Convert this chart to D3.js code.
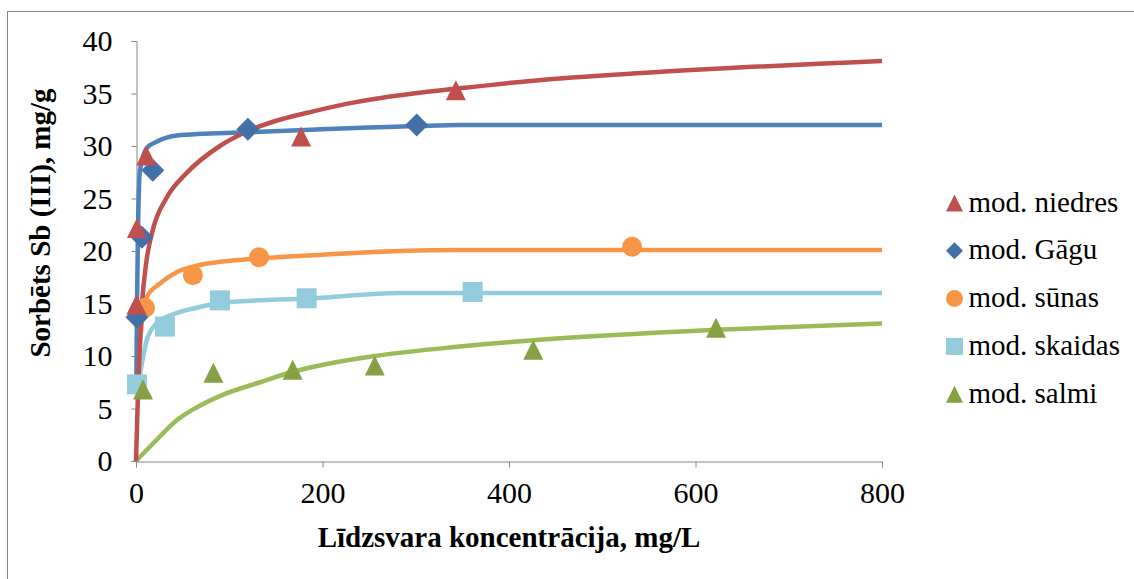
<!DOCTYPE html>
<html>
<head>
<meta charset="utf-8">
<script src="https://cdn.jsdelivr.net/npm/d3@7"></script>
<style>
  body { margin: 0; background: #fff; }
</style>
</head>
<body>
<div class="chart"></div>
<script>
// mērījumu punkti (marķieri)
var niedresX = [0.5, 1, 11, 177, 343];
var niedresY = [14.9, 22.2, 29.1, 30.9, 35.3];
var gaguX = [1, 6.4, 18, 120, 301];
var gaguY = [13.7, 21.3, 27.7, 31.6, 32.0];
var sunasX = [9.7, 61, 132, 532];
var sunasY = [14.6, 17.7, 19.4, 20.4];
var skaidasX = [1, 31, 90, 183, 361];
var skaidasY = [7.3, 12.8, 15.3, 15.5, 16.1];
var salmiX = [7.5, 83, 168, 256, 426, 622];
var salmiY = [6.8, 8.4, 8.7, 9.1, 10.6, 12.7];

// modeļa līknes
var niedresModX = [0, 2, 4, 6, 11, 18, 33, 54, 90, 122, 154, 190, 237, 297, 347, 423, 551, 800];
var niedresModY = [0, 6.1, 10.9, 14.4, 18.9, 22, 25.1, 27.4, 30, 31.5, 32.5, 33.3, 34.2, 35.0, 35.5, 36.2, 37.0, 38.1];
var gaguModX = [0.3, 1, 2, 4.3, 11.5, 22, 44, 120, 301, 347, 800];
var gaguModY = [6.5, 14, 21.3, 27.7, 29.8, 30.4, 31.0, 31.3, 31.9, 32.0, 32.0];
var sunasModX = [2, 5, 11.5, 25.7, 44, 65, 93, 133, 190, 283, 347, 800];
var sunasModY = [7, 12, 15.6, 16.9, 18.0, 18.6, 19.0, 19.3, 19.6, 20.0, 20.1, 20.1];
var skaidasModX = [2, 6.4, 11.5, 22, 44, 65, 93, 190, 283, 347, 800];
var skaidasModY = [7.0, 9.3, 11.5, 13.1, 14.1, 14.6, 15.1, 15.5, 16.0, 16.0, 16.0];
var salmiModX = [0, 22, 44, 65, 93, 133, 168, 197, 256, 347, 426, 622, 800];
var salmiModY = [0, 2.0, 3.9, 5.1, 6.3, 7.5, 8.5, 9.1, 10.0, 10.9, 11.5, 12.5, 13.1];

var xTicks = [0, 200, 400, 600, 800];
var yTicks = [0, 5, 10, 15, 20, 25, 30, 35, 40];
var names = ["mod. niedres", "mod. Gāgu", "mod. sūnas", "mod. skaidas", "mod. salmi"];

var width = 1134, height = 579;
var serif = "'Liberation Serif'";

// Excel stila marķieri (izmērs = platums^2)
var tri = {draw: function(ctx, size){
    var r = Math.sqrt(size) / 2;
    ctx.moveTo(0, -r); ctx.lineTo(r, r); ctx.lineTo(-r, r); ctx.closePath();
}};
var dia = {draw: function(ctx, size){
    var r = Math.sqrt(size) / 2;
    ctx.moveTo(0, -r); ctx.lineTo(r, 0); ctx.lineTo(0, r); ctx.lineTo(-r, 0); ctx.closePath();
}};
var sq = {draw: function(ctx, size){
    var r = Math.sqrt(size) / 2;
    ctx.rect(-r, -r, 2 * r, 2 * r);
}};
var circ = {draw: function(ctx, size){
    var r = Math.sqrt(size) / 2;
    ctx.moveTo(r, 0); ctx.arc(0, 0, r, 0, 2 * Math.PI);
}};

var svg = d3.select(".chart").append("svg")
    .attr("width", width)
    .attr("height", height);

// rāmis
svg.append("rect").attr("x", 7.5).attr("y", 11.5).attr("width", 1200).attr("height", 700)
    .attr("fill", "none").attr("stroke", "#868686").attr("stroke-width", 1);

var x = d3.scaleLinear().domain([0, 800]).range([136, 882]);
var y = d3.scaleLinear().domain([0, 40]).range([461, 41]);

// asis
var yAxis = svg.append("g").attr("transform", "translate(136.5,0)")
    .call(d3.axisLeft(y).tickValues(yTicks).tickSize(5).tickPadding(19));
var xAxis = svg.append("g").attr("transform", "translate(0,461.5)")
    .call(d3.axisBottom(x).tickValues(xTicks).tickSize(6).tickPadding(14));
[xAxis, yAxis].forEach(function(a){
    a.attr("font-family", null).attr("font-size", null);
    a.selectAll("path, line").attr("stroke", "#868686");
    a.selectAll("text").style("font-size", "30px").attr("fill", "#000")
        .style("font-family", serif);
});

// asu nosaukumi
svg.append("text").attr("x", 509).attr("y", 547).attr("text-anchor", "middle")
    .style("font-size", "29px").style("font-weight", "bold").style("font-family", serif)
    .text("Līdzsvara koncentrācija, mg/L");
svg.append("text").attr("transform", "translate(50,223) rotate(-90)").attr("text-anchor", "middle")
    .style("font-size", "29px").style("font-weight", "bold").style("font-family", serif)
    .text("Sorbēts Sb (III), mg/g");

var line = d3.line().curve(d3.curveMonotoneX)
    .x(function(d){ return x(d[0]); })
    .y(function(d){ return y(d[1]); });

function pairs(xs, ys){ return xs.map(function(v, i){ return [v, ys[i]]; }); }

var lines = [
    {xs: skaidasModX, ys: skaidasModY, c: "#93CDDD"},
    {xs: sunasModX, ys: sunasModY, c: "#F79646"},
    {xs: salmiModX, ys: salmiModY, c: "#9BBB59"},
    {xs: gaguModX, ys: gaguModY, c: "#4F81BD"},
    {xs: niedresModX, ys: niedresModY, c: "#C0504D"}
];
lines.forEach(function(l){
    svg.append("path").datum(pairs(l.xs, l.ys)).attr("d", line)
        .attr("fill", "none").attr("stroke", l.c).attr("stroke-width", 4.5)
        .attr("stroke-linejoin", "round");
});

var series = [
    {xs: skaidasX, ys: skaidasY, c: "#93CDDD", s: sq, w: 20},
    {xs: sunasX, ys: sunasY, c: "#F79646", s: circ, w: 20},
    {xs: salmiX, ys: salmiY, c: "#86A044", s: tri, w: 20},
    {xs: gaguX, ys: gaguY, c: "#4470A8", s: dia, w: 23},
    {xs: niedresX, ys: niedresY, c: "#C0504D", s: tri, w: 20}
];
series.forEach(function(s){
    svg.append("g").selectAll("path").data(pairs(s.xs, s.ys)).enter().append("path")
        .attr("d", d3.symbol().type(s.s).size(s.w * s.w))
        .attr("transform", function(d){
            return "translate(" + x(d[0]) + "," + y(d[1]) + ")";
        })
        .attr("fill", s.c);
});

// leģenda
var legend = [
    {c: "#C0504D", s: tri},
    {c: "#4470A8", s: dia},
    {c: "#F79646", s: circ},
    {c: "#93CDDD", s: sq},
    {c: "#86A044", s: tri}
];
var lg = svg.append("g").selectAll("g").data(legend).enter().append("g")
    .attr("transform", function(d, i){ return "translate(954.5," + (203 + i * 47.8) + ")"; });
lg.append("path").attr("d", function(d){ return d3.symbol().type(d.s).size(17 * 17)(); })
    .attr("fill", function(d){ return d.c; });
lg.append("text").attr("x", 14).attr("y", 8.5).style("font-size", "29px")
    .style("font-family", serif)
    .text(function(d, i){ return names[i]; });
</script>
</body>
</html>
